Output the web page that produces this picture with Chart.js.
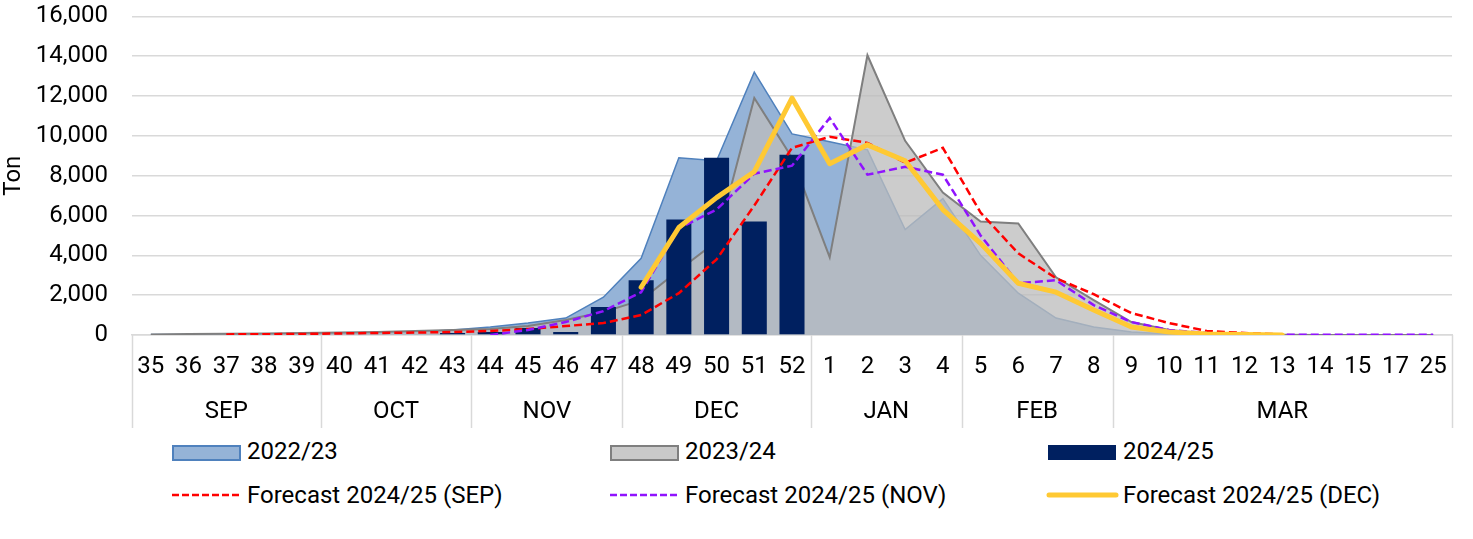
<!DOCTYPE html>
<html lang="en">
<head>
    <meta charset="UTF-8" />
    <title>Weekly volumes</title>
    <style>
        body {
            margin: 0;
            padding: 0;
            background: #ffffff;
            font-family: Roboto, "Noto Sans", sans-serif;
        }

        #wrap {
            position: relative;
            width: 1473px;
            height: 539px;
            overflow: hidden;
        }

        #chartBox {
            position: absolute;
            left: 0;
            top: -22px;
            width: 1473px;
            height: 457px;
        }

        .lg {
            position: absolute;
            font-size: 24px;
            color: #000;
            line-height: 28px;
            white-space: nowrap;
        }

        .sw {
            position: absolute;
        }
    </style>
    <script src="https://cdn.jsdelivr.net/npm/chart.js"></script>
</head>
<body>
    <div id="wrap">
        <div id="chartBox"><canvas id="harvestChart"></canvas></div>

        <!-- legend row 1 -->
        <div class="sw" style="left:172px;top:445px;width:65px;height:12px;background:#95b3d7;border:2px solid #4f81bd;"></div>
        <div class="lg" style="left:247px;top:437px;">2022/23</div>
        <div class="sw" style="left:610px;top:445px;width:65px;height:12px;background:#c9c9c9;border:2px solid #7f7f7f;"></div>
        <div class="lg" style="left:685px;top:437px;">2023/24</div>
        <div class="sw" style="left:1048px;top:445px;width:68px;height:15px;background:#002060;"></div>
        <div class="lg" style="left:1123px;top:437px;">2024/25</div>

        <!-- legend row 2 -->
        <svg class="sw" style="left:172px;top:489px;" width="70" height="12">
            <line x1="0" y1="6" x2="68" y2="6" stroke="#ff0000" stroke-width="2.5" stroke-dasharray="7,3" />
        </svg>
        <div class="lg" style="left:247px;top:481px;">Forecast 2024/25 (SEP)</div>
        <svg class="sw" style="left:610px;top:489px;" width="70" height="12">
            <line x1="0" y1="6" x2="68" y2="6" stroke="#9013fe" stroke-width="2.5" stroke-dasharray="7,3" />
        </svg>
        <div class="lg" style="left:685px;top:481px;">Forecast 2024/25 (NOV)</div>
        <svg class="sw" style="left:1046px;top:489px;" width="74" height="12">
            <line x1="3" y1="6" x2="70" y2="6" stroke="#ffc933" stroke-width="5" stroke-linecap="round" />
        </svg>
        <div class="lg" style="left:1123px;top:481px;">Forecast 2024/25 (DEC)</div>
    </div>

    <script>
    // week numbers on the x axis
    const weeks = ['35', '36', '37', '38', '39', '40', '41', '42', '43', '44', '45', '46', '47',
        '48', '49', '50', '51', '52', '1', '2', '3', '4', '5', '6', '7', '8',
        '9', '10', '11', '12', '13', '14', '15', '17', '25'];

    // month groups (number of weeks in each)
    const monthNames = ['SEP', 'OCT', 'NOV', 'DEC', 'JAN', 'FEB', 'MAR'];
    const monthSpans = [5, 4, 4, 5, 4, 4, 9];

    // ton per week
    const season2223 = [20, 30, 40, 50, 60, 80, 100, 150, 250, 400, 600, 850, 1900, 3850, 8900, 8750, 13200, 10100,
        9700, 9300, 5300, 6850, 4000, 2100, 850, 400, 150, 50, 20, 10, 0, 0, 0, 0, 0];
    const season2324 = [30, 50, 60, 80, 100, 120, 150, 200, 250, 300, 450, 750, 1150, 1750, 3250, 4700, 11900, 8900,
        3900, 14050, 9750, 7150, 5700, 5600, 2900, 1750, 650, 250, 80, 30, 10, 0, 0, 0, 0];
    const season2425 = [null, null, null, null, null, null, null, null, 100, 150, 350, 150, 1400, 2750, 5800, 8900, 5700, 9050,
        null, null, null, null, null, null, null, null, null, null, null, null, null, null, null, null, null];
    const forecastSep = [null, null, 30, 40, 50, 80, 100, 120, 150, 200, 300, 450, 600, 1000, 2100, 3800, 6500, 9400,
        9950, 9650, 8650, 9400, 6150, 4100, 2850, 2050, 1100, 600, 200, 100, 30, null, null, null, null];
    const forecastNov = [null, null, null, null, null, null, null, null, null, 0, 250, 650, 1200, 2150, 5350, 6300, 8100, 8500,
        10900, 8050, 8450, 8050, 5000, 2600, 2750, 1500, 650, 250, 100, 30, 20, 10, 10, 10, 10];
    const forecastDec = [null, null, null, null, null, null, null, null, null, null, null, null, null, 2400, 5400, 6900, 8200, 11900,
        8600, 9550, 8750, 6300, 4600, 2600, 2150, 1250, 400, 150, 50, 20, 0, null, null, null, null];

    const yTicks = [0, 2000, 4000, 6000, 8000, 10000, 12000, 14000, 16000];

    const gridGrey = '#d9d9d9';
    const fontSpec = { family: 'Roboto', size: 24 };

    // month centres and boundaries in category units
    const monthCentres = [];
    const monthEdges = [-0.5];
    let start = 0;
    monthSpans.forEach(n => {
        monthCentres.push(start + (n - 1) / 2);
        start += n;
        monthEdges.push(start - 0.5);
    });

    // vertical separators between month groups
    const separators = {
        id: 'separators',
        afterDraw(chart) {
            const xm = chart.scales.xm;
            const ctx = chart.ctx;
            ctx.save();
            ctx.strokeStyle = gridGrey;
            ctx.lineWidth = 1.5;
            monthEdges.forEach(v => {
                const px = Math.round(xm.getPixelForValue(v)) + 0.5;
                ctx.beginPath();
                ctx.moveTo(px, chart.chartArea.bottom);
                ctx.lineTo(px, xm.bottom - 7);
                ctx.stroke();
            });
            ctx.restore();
        }
    };

    new Chart(document.getElementById('harvestChart'), {
        type: 'bar',
        data: {
            labels: weeks,
            datasets: [
                {
                    type: 'line', label: '2022/23', data: season2223,
                    backgroundColor: '#95b3d7', borderColor: '#4f81bd', borderWidth: 1.5,
                    fill: 'origin', pointRadius: 0, tension: 0, order: 6
                },
                {
                    type: 'line', label: '2023/24', data: season2324,
                    backgroundColor: 'rgba(189,189,189,0.77)', borderColor: '#7f7f7f', borderWidth: 2,
                    fill: 'origin', pointRadius: 0, tension: 0, order: 5
                },
                {
                    type: 'bar', label: '2024/25', data: season2425,
                    backgroundColor: '#002060', barPercentage: 0.8, categoryPercentage: 0.83, order: 4
                },
                {
                    type: 'line', label: 'Forecast 2024/25 (SEP)', data: forecastSep,
                    borderColor: '#ff0000', borderWidth: 2.5, borderDash: [8, 4],
                    fill: false, pointRadius: 0, tension: 0, order: 3
                },
                {
                    type: 'line', label: 'Forecast 2024/25 (NOV)', data: forecastNov,
                    borderColor: '#9013fe', borderWidth: 2.5, borderDash: [8, 4],
                    fill: false, pointRadius: 0, tension: 0, order: 2
                },
                {
                    type: 'line', label: 'Forecast 2024/25 (DEC)', data: forecastDec,
                    borderColor: '#ffc933', borderWidth: 5, borderCapStyle: 'round', borderJoinStyle: 'round',
                    fill: false, pointRadius: 0, tension: 0, order: 1
                }
            ]
        },
        options: {
            responsive: true,
            maintainAspectRatio: false,
            animation: false,
            layout: { padding: { left: 0, right: 21, top: 15, bottom: 0 } },
            plugins: {
                legend: { display: false },
                tooltip: { enabled: false }
            },
            scales: {
                x: {
                    type: 'category',
                    offset: true,
                    weight: 0,
                    grid: { display: false, drawTicks: false },
                    border: { display: true, color: gridGrey, width: 1.5 },
                    ticks: { color: '#000', font: fontSpec, padding: 18, maxRotation: 0, autoSkip: false },
                    afterFit: s => { s.height = 55; }
                },
                xm: {
                    type: 'linear',
                    position: 'bottom',
                    offset: false,
                    weight: 1,
                    min: -0.5,
                    max: 34.5,
                    grid: { display: false, drawTicks: false, offset: false },
                    border: { display: false },
                    afterBuildTicks: s => { s.ticks = monthCentres.map(v => ({ value: v })); },
                    ticks: {
                        color: '#000', font: fontSpec, padding: 8, maxRotation: 0, autoSkip: false,
                        callback: (v, i) => monthNames[i]
                    },
                    afterFit: s => { s.height = 45; }
                },
                y: {
                    min: 0,
                    max: 16000,
                    afterBuildTicks: s => { s.ticks = yTicks.map(v => ({ value: v })); },
                    grid: { color: gridGrey, lineWidth: 1.5, drawTicks: false },
                    border: { display: false },
                    ticks: {
                        color: '#000', font: fontSpec, padding: 24,
                        callback: v => v.toLocaleString('en-US')
                    },
                    title: { display: true, text: 'Ton', color: '#000', font: fontSpec, padding: { top: 0, bottom: 0 } },
                    afterFit: s => { s.width = 132; }
                }
            }
        },
        plugins: [separators]
    });
    </script>
</body>
</html>
